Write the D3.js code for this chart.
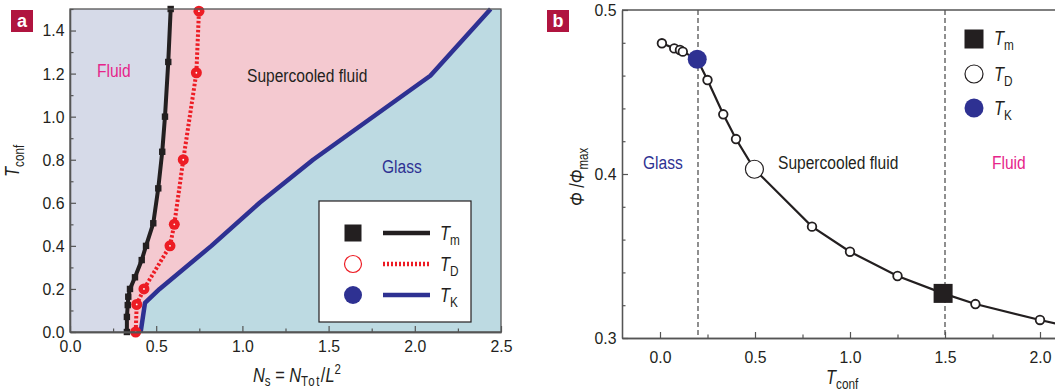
<!DOCTYPE html>
<html>
<head>
<meta charset="utf-8">
<script src="https://cdn.jsdelivr.net/npm/d3@7"></script>
<style>
  body { margin: 0; background: #fff; }
  svg text { font-family: "Liberation Sans", Arial, sans-serif; }
</style>
</head>
<body>
<div id="vis"></div>
<script>
// panel a : phase diagram, N_s on x, T_conf on y
const tmN = [0.33, 0.33, 0.335, 0.338, 0.348, 0.377, 0.416, 0.441, 0.483, 0.512, 0.535, 0.551, 0.570, 0.584];
const tmT = [0.0, 0.07, 0.125, 0.164, 0.2, 0.254, 0.334, 0.40, 0.505, 0.667, 0.837, 1.0, 1.254, 1.5];
const tdN = [0.381, 0.387, 0.429, 0.58, 0.605, 0.657, 0.733, 0.748];
const tdT = [0.0, 0.128, 0.2, 0.40, 0.50, 0.80, 1.204, 1.49];
const tkN = [0.41, 0.435, 0.52, 0.82, 1.10, 1.41, 2.09, 2.44];
const tkT = [0.0, 0.135, 0.2, 0.40, 0.60, 0.80, 1.19, 1.5];
const aXTicks = [0, 0.5, 1.0, 1.5, 2.0, 2.5];
const aXMinor = [0.25, 0.75, 1.25, 1.75, 2.25];
const aYTicks = [0, 0.2, 0.4, 0.6, 0.8, 1.0, 1.2, 1.4];
const aYMinor = [0.1, 0.3, 0.5, 0.7, 0.9, 1.1, 1.3, 1.5];

// panel b : Phi/Phi_max against T_conf
const bT   = [0.01, 0.075, 0.105, 0.12, 0.25, 0.333, 0.40, 0.80, 1.0, 1.25, 1.66, 2.0, 2.5];
const bPhi = [0.4797, 0.4766, 0.4756, 0.4746, 0.4573, 0.4364, 0.4213, 0.3679, 0.3526, 0.3378, 0.3207, 0.311, 0.298];
const tkPoint = [0.196, 0.470];
const tdPoint = [0.497, 0.4029];
const tmPoint = [1.49, 0.3272];
const bDashed = [0.2, 1.5];
const bXTicks = [0, 0.5, 1.0, 1.5, 2.0];
const bXMinor = [0.25, 0.75, 1.25, 1.75];
const bYTicks = [0.3, 0.4, 0.5];
const bYMinor = [0.32, 0.34, 0.36, 0.38, 0.42, 0.44, 0.46, 0.48];

const BLACK = "#231f20", RED = "#ed1c24", BLUE = "#2e3192", MAGENTA = "#e6248a";
const AXIS = "#555";
const SQ = 0.82; // horizontal squeeze, condensed look

const svg = d3.select("#vis").append("svg")
  .attr("width", 1055).attr("height", 391)
  .style("background-color", "white");

// condensed text placed at x,y (rot = rotation in degrees)
function ntext(g, x, y, size, rot) {
  return g.append("text")
    .attr("transform", `translate(${x},${y})` + (rot ? ` rotate(${rot})` : "") + ` scale(${SQ},1)`)
    .attr("font-size", size).attr("fill", BLACK);
}

// symbol with subscript, e.g. T_m
function symLabel(g, x, y, main, sub, size, rot) {
  const t = ntext(g, x, y, size, rot);
  t.append("tspan").attr("font-style", "italic").text(main);
  t.append("tspan").attr("dy", size * 0.25).attr("font-size", size * 0.72).text(sub);
  return t;
}

function panelTag(x, y, letter) {
  svg.append("rect").attr("x", x).attr("y", y).attr("width", 22).attr("height", 22).attr("fill", "#b0143f");
  svg.append("text").attr("x", x + 11).attr("y", y + 17).attr("text-anchor", "middle")
    .attr("font-size", 18).attr("font-weight", "bold").attr("fill", "white").text(letter);
}

function styleAxis(g, fs) {
  g.select(".domain").attr("stroke", AXIS).attr("stroke-width", 1.3);
  g.selectAll(".tick line").attr("stroke", AXIS).attr("stroke-width", 1.2);
  g.selectAll(".tick text").attr("font-size", fs).attr("fill", BLACK)
    .attr("transform", "scale(0.93,1)")
    .attr("font-family", '"Liberation Sans", Arial, sans-serif');
}

// ---------------- panel a ----------------
const ax = d3.scaleLinear().domain([0, 2.5]).range([70, 501]);
const ay = d3.scaleLinear().domain([0, 1.5]).range([332, 9]);
const ga = svg.append("g");

ga.append("rect").attr("x", ax(0)).attr("y", ay(1.5))
  .attr("width", ax(2.5) - ax(0)).attr("height", ay(0) - ay(1.5)).attr("fill", "#bddae2");

const poly = d3.line().x(d => ax(d[0])).y(d => ay(d[1]));
const tkPts = tkN.map((n, i) => [n, tkT[i]]);
const tmPts = tmN.map((n, i) => [n, tmT[i]]);
const tdPts = tdN.map((n, i) => [n, tdT[i]]);

ga.append("path").attr("d", poly([[0, 0], ...tkPts, [0, 1.5]]) + "Z").attr("fill", "#f4c9d0");
ga.append("path").attr("d", poly([[0, 0], ...tmPts, [0, 1.5]]) + "Z").attr("fill", "#d6dae8");

// T_K
ga.append("path").attr("d", poly(tkPts)).attr("fill", "none")
  .attr("stroke", BLUE).attr("stroke-width", 4.5).attr("stroke-linejoin", "round");
// T_m
ga.append("path").attr("d", poly(tmPts)).attr("fill", "none")
  .attr("stroke", BLACK).attr("stroke-width", 4);
ga.selectAll("rect.tm").data(tmPts).join("rect").attr("class", "tm")
  .attr("x", d => ax(d[0]) - 3.2).attr("y", d => ay(d[1]) - 3.2)
  .attr("width", 6.4).attr("height", 6.4).attr("fill", BLACK);
// T_D
ga.append("path").attr("d", poly(tdPts)).attr("fill", "none")
  .attr("stroke", RED).attr("stroke-width", 4).attr("stroke-dasharray", "2.5 2");
ga.selectAll("circle.td").data(tdPts).join("circle").attr("class", "td")
  .attr("cx", d => ax(d[0])).attr("cy", d => ay(d[1])).attr("r", 5.5).attr("fill", RED);
ga.selectAll("circle.tdc").data(tdPts).join("circle").attr("class", "tdc")
  .attr("cx", d => ax(d[0])).attr("cy", d => ay(d[1])).attr("r", 0.9).attr("fill", "white");

// frame and axes
ga.append("rect").attr("x", ax(0)).attr("y", ay(1.5))
  .attr("width", ax(2.5) - ax(0)).attr("height", ay(0) - ay(1.5))
  .attr("fill", "none").attr("stroke", AXIS).attr("stroke-width", 1.3);

const axB = ga.append("g").attr("transform", `translate(0,${ay(0)})`)
  .call(d3.axisBottom(ax).tickValues(aXTicks).tickFormat(d3.format(".1f")).tickSizeInner(-6).tickSizeOuter(0).tickPadding(8));
styleAxis(axB, 17);
ga.append("g").attr("transform", `translate(0,${ay(0)})`)
  .call(d3.axisBottom(ax).tickValues(aXMinor).tickFormat("").tickSizeInner(-3.5).tickSizeOuter(0))
  .call(g => styleAxis(g, 0));
const axL = ga.append("g").attr("transform", `translate(${ax(0)},0)`)
  .call(d3.axisLeft(ay).tickValues(aYTicks).tickFormat(d3.format(".1f")).tickSizeInner(-6).tickSizeOuter(0).tickPadding(6));
styleAxis(axL, 17);
ga.append("g").attr("transform", `translate(${ax(0)},0)`)
  .call(d3.axisLeft(ay).tickValues(aYMinor).tickFormat("").tickSizeInner(-3.5).tickSizeOuter(0))
  .call(g => styleAxis(g, 0));

// region labels
ntext(ga, 97, 77, 19).attr("fill", MAGENTA).text("Fluid");
ntext(ga, 247, 82, 19).text("Supercooled fluid");
ntext(ga, 382, 173, 19).attr("fill", BLUE).text("Glass");

// legend a
ga.append("rect").attr("x", 319).attr("y", 201).attr("width", 152).attr("height", 121)
  .attr("fill", "white").attr("stroke", BLACK).attr("stroke-width", 1.2);
const legA = [
  { y: 233, sub: "m" }, { y: 264, sub: "D" }, { y: 295, sub: "K" }
];
ga.append("rect").attr("x", 344.5).attr("y", legA[0].y - 8.5).attr("width", 17).attr("height", 17).attr("fill", BLACK);
ga.append("circle").attr("cx", 353).attr("cy", legA[1].y).attr("r", 8.5).attr("fill", "white").attr("stroke", RED).attr("stroke-width", 1.2);
ga.append("circle").attr("cx", 353).attr("cy", legA[2].y).attr("r", 9).attr("fill", BLUE);
ga.append("line").attr("x1", 383).attr("x2", 430).attr("y1", legA[0].y).attr("y2", legA[0].y).attr("stroke", BLACK).attr("stroke-width", 4.5);
ga.append("line").attr("x1", 383).attr("x2", 430).attr("y1", legA[1].y).attr("y2", legA[1].y).attr("stroke", RED).attr("stroke-width", 4.5).attr("stroke-dasharray", "2 2");
ga.append("line").attr("x1", 383).attr("x2", 430).attr("y1", legA[2].y).attr("y2", legA[2].y).attr("stroke", BLUE).attr("stroke-width", 4.5);
legA.forEach(d => symLabel(ga, 440, d.y + 7, "T", d.sub, 20));

// axis titles a
const xtA = ntext(ga, 253, 382, 20);
xtA.append("tspan").attr("font-style", "italic").text("N");
xtA.append("tspan").attr("dy", 4).attr("font-size", 14).text("s");
xtA.append("tspan").attr("dy", -4).text(" = ");
xtA.append("tspan").attr("font-style", "italic").text("N");
xtA.append("tspan").attr("dy", 4).attr("font-size", 14).attr("letter-spacing", 1.8).text("Tot");
xtA.append("tspan").attr("dy", -4).text("/");
xtA.append("tspan").attr("font-style", "italic").text("L");
xtA.append("tspan").attr("dy", -8).attr("font-size", 14).text("2");

symLabel(ga, 19, 177, "T", "conf", 20, -90);

panelTag(11, 10, "a");

// ---------------- panel b ----------------
const bx = d3.scaleLinear().domain([-0.2, 2.2]).range([622, 1078]);
const by = d3.scaleLinear().domain([0.3, 0.5]).range([338, 10]);
const gb = svg.append("g");

svg.append("clipPath").attr("id", "clipb").append("rect")
  .attr("x", 622).attr("y", 0).attr("width", 500).attr("height", 338);

gb.selectAll("line.dash").data(bDashed).join("line").attr("class", "dash")
  .attr("x1", d => bx(d)).attr("x2", d => bx(d)).attr("y1", by(0.5)).attr("y2", by(0.3))
  .attr("stroke", "#333").attr("stroke-width", 1.1).attr("stroke-dasharray", "5 3");

const curvePts = bT.map((t, i) => [t, bPhi[i]]).concat([tkPoint, tdPoint, tmPoint])
  .sort((a, b) => a[0] - b[0]);
const lineB = d3.line().x(d => bx(d[0])).y(d => by(d[1]));
gb.append("path").attr("clip-path", "url(#clipb)").attr("d", lineB(curvePts))
  .attr("fill", "none").attr("stroke", BLACK).attr("stroke-width", 2.2);

gb.selectAll("circle.pt").data(bT.map((t, i) => [t, bPhi[i]])).join("circle").attr("class", "pt")
  .attr("cx", d => bx(d[0])).attr("cy", d => by(d[1])).attr("r", 4.3)
  .attr("fill", "white").attr("stroke", BLACK).attr("stroke-width", 1.8);
gb.append("circle").attr("cx", bx(tdPoint[0])).attr("cy", by(tdPoint[1])).attr("r", 9)
  .attr("fill", "white").attr("stroke", BLACK).attr("stroke-width", 1.2);
gb.append("circle").attr("cx", bx(tkPoint[0])).attr("cy", by(tkPoint[1])).attr("r", 9.5).attr("fill", BLUE);
gb.append("rect").attr("x", bx(tmPoint[0]) - 9.5).attr("y", by(tmPoint[1]) - 9.5)
  .attr("width", 19).attr("height", 19).attr("fill", BLACK);

// axes b
gb.append("line").attr("x1", 622).attr("x2", 1055).attr("y1", by(0.5)).attr("y2", by(0.5))
  .attr("stroke", AXIS).attr("stroke-width", 1.3);
const bxAxis = gb.append("g").attr("transform", `translate(0,${by(0.3)})`)
  .call(d3.axisBottom(bx).tickValues(bXTicks).tickFormat(d3.format(".1f")).tickSizeInner(-6).tickSizeOuter(0).tickPadding(13));
styleAxis(bxAxis, 17);
gb.append("g").attr("transform", `translate(0,${by(0.3)})`)
  .call(d3.axisBottom(bx).tickValues(bXMinor).tickFormat("").tickSizeInner(-3.5).tickSizeOuter(0))
  .call(g => styleAxis(g, 0));
const byAxis = gb.append("g").attr("transform", `translate(${bx(-0.2)},0)`)
  .call(d3.axisLeft(by).tickValues(bYTicks).tickFormat(d3.format(".1f")).tickSizeInner(-6).tickSizeOuter(0).tickPadding(6));
styleAxis(byAxis, 17);
gb.append("g").attr("transform", `translate(${bx(-0.2)},0)`)
  .call(d3.axisLeft(by).tickValues(bYMinor).tickFormat("").tickSizeInner(-3.5).tickSizeOuter(0))
  .call(g => styleAxis(g, 0));

// region labels b
ntext(gb, 643, 169, 19).attr("fill", BLUE).text("Glass");
ntext(gb, 778, 169, 19).text("Supercooled fluid");
ntext(gb, 992, 169, 19).attr("fill", MAGENTA).text("Fluid");

// legend b
gb.append("rect").attr("x", 964.5).attr("y", 29.5).attr("width", 19).attr("height", 19).attr("fill", BLACK);
gb.append("circle").attr("cx", 974).attr("cy", 74).attr("r", 9).attr("fill", "white").attr("stroke", BLACK).attr("stroke-width", 1.2);
gb.append("circle").attr("cx", 974).attr("cy", 108).attr("r", 9.5).attr("fill", BLUE);
[{ y: 45, sub: "m" }, { y: 81, sub: "D" }, { y: 115, sub: "K" }]
  .forEach(d => symLabel(gb, 994, d.y, "T", d.sub, 20));

// axis titles b
symLabel(gb, 826, 384, "T", "conf", 20);
const ytB = ntext(gb, 584, 206, 20, -90);
ytB.append("tspan").attr("font-style", "italic").text("Φ");
ytB.append("tspan").text(" /");
ytB.append("tspan").attr("font-style", "italic").text("Φ");
ytB.append("tspan").attr("dy", 4).attr("font-size", 14).text("max");

panelTag(547, 10, "b");
</script>
</body>
</html>
